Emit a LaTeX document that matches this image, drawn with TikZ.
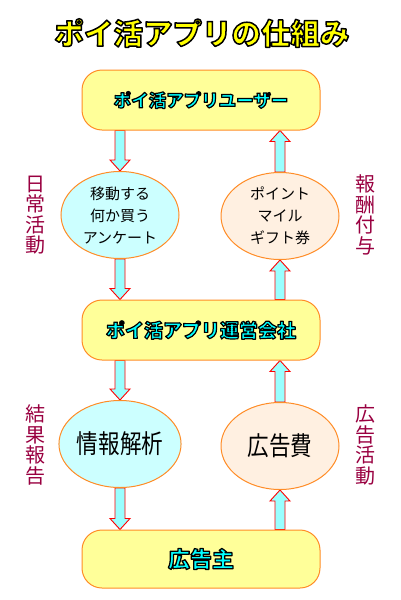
\documentclass[tikz,border=0pt]{standalone}
\usepackage{fontspec}
\usepackage{graphicx}
\setmainfont{Noto Sans CJK JP}
\usetikzlibrary{shapes.geometric,calc,backgrounds}
\definecolor{boxfill}{HTML}{FFFF99}
\definecolor{boxline}{HTML}{FF8C26}
\definecolor{leftfill}{HTML}{CCFFFF}
\definecolor{rightfill}{HTML}{FFF0E1}
\definecolor{arrfill}{HTML}{99FFFF}
\definecolor{sidecol}{HTML}{990040}
\definecolor{titlecol}{HTML}{FFFF00}
\definecolor{labcol}{HTML}{00FFFF}
\newcommand\outlon[1]{\special{pdf:code 2 Tr 0 0 0 RG #1 w 1 j}}
\newcommand\outloff{\special{pdf:code 0 Tr}}
\newcommand\narrow[1]{\scalebox{0.83}[1]{#1}}
\newcommand\fatarrow[2]{%
  \coordinate (hs) at (#1);
  \coordinate (he) at (#2);
  \coordinate (hb) at ($(he)!11pt!(hs)$);
  \draw[fatarr] ($(hs)!5pt!90:(he)$) -- ($(hb)!5pt!-90:(hs)$) -- ($(hb)!10pt!-90:(hs)$) -- (he)
    -- ($(hb)!10pt!90:(hs)$) -- ($(hb)!5pt!90:(hs)$) -- ($(hs)!5pt!-90:(he)$) -- cycle;}
\tikzset{
  box/.style={draw=boxline, fill=boxfill, rounded corners=20pt, minimum width=238pt, minimum height=60pt, line width=1pt, inner sep=0pt},
  oval/.style={ellipse, draw=boxline, line width=1pt, minimum width=118pt, minimum height=87pt, inner sep=0pt, align=center},
  side/.style={text=sidecol, font=\fontsize{20}{20.5}\selectfont, align=center, inner sep=0pt},
  fatarr/.style={draw=red, fill=arrfill, line width=0.9pt, line join=miter},
  small/.style={font=\fontsize{15}{22}\selectfont},
  big/.style={font=\fontsize{26}{26}\selectfont}
}
\begin{document}
\begin{tikzpicture}[x=1pt,y=-1pt]
\useasboundingbox (0,0) rectangle (400,600);
\node[text=titlecol, inner sep=0pt] (title) at (202,33) {\fontsize{29.5}{29.5}\selectfont\bfseries\outlon{1.5}ポイ活アプリの仕組み\outloff};
\node[box] (u) at (201,100) {};
\node[text=labcol, inner sep=0pt] (ut) at (u.center) {\fontsize{17.5}{17.5}\selectfont\bfseries\outlon{1.2}ポイ活アプリユーザー\outloff};
\node[box] (op) at (201,330) {};
\node[text=labcol, inner sep=0pt] (opt) at (op.center) {\fontsize{19}{19}\selectfont\bfseries\outlon{1.2}ポイ活アプリ運営会社\outloff};
\node[box, minimum height=58pt] (ad) at (201,559) {};
\node[text=labcol, inner sep=0pt] (adt) at (ad.center) {\fontsize{22}{22}\selectfont\bfseries\outlon{1.3}広告主\outloff};
\node[oval, fill=leftfill, small] (e1) at (120,215) {移動する\\何か買う\\アンケート};
\node[oval, fill=rightfill, small] (e2) at (280,216) {ポイント\\マイル\\ギフト券};
\node[oval, fill=leftfill, big] (e3) at (120,444) {\narrow{情報解析}};
\node[oval, fill=rightfill, big] (e4) at (280,446) {\narrow{広告費}};
\node[side] (s1) at (35,215) {日\\常\\活\\動};
\node[side] (s2) at (365,215) {報\\酬\\付\\与};
\node[side] (s3) at (35,445) {結\\果\\報\\告};
\node[side] (s4) at (365,445) {広\\告\\活\\動};
\begin{scope}[on background layer]
\fatarrow{u.south -| e1}{e1.north}
\fatarrow{e1.south}{op.north -| e1}
\fatarrow{op.north -| e2}{e2.south}
\fatarrow{e2.north}{u.south -| e2}
\fatarrow{op.south -| e3}{e3.north}
\fatarrow{e3.south}{ad.north -| e3}
\fatarrow{ad.north -| e4}{e4.south}
\fatarrow{e4.north}{op.south -| e4}
\end{scope}
\end{tikzpicture}
\end{document}
